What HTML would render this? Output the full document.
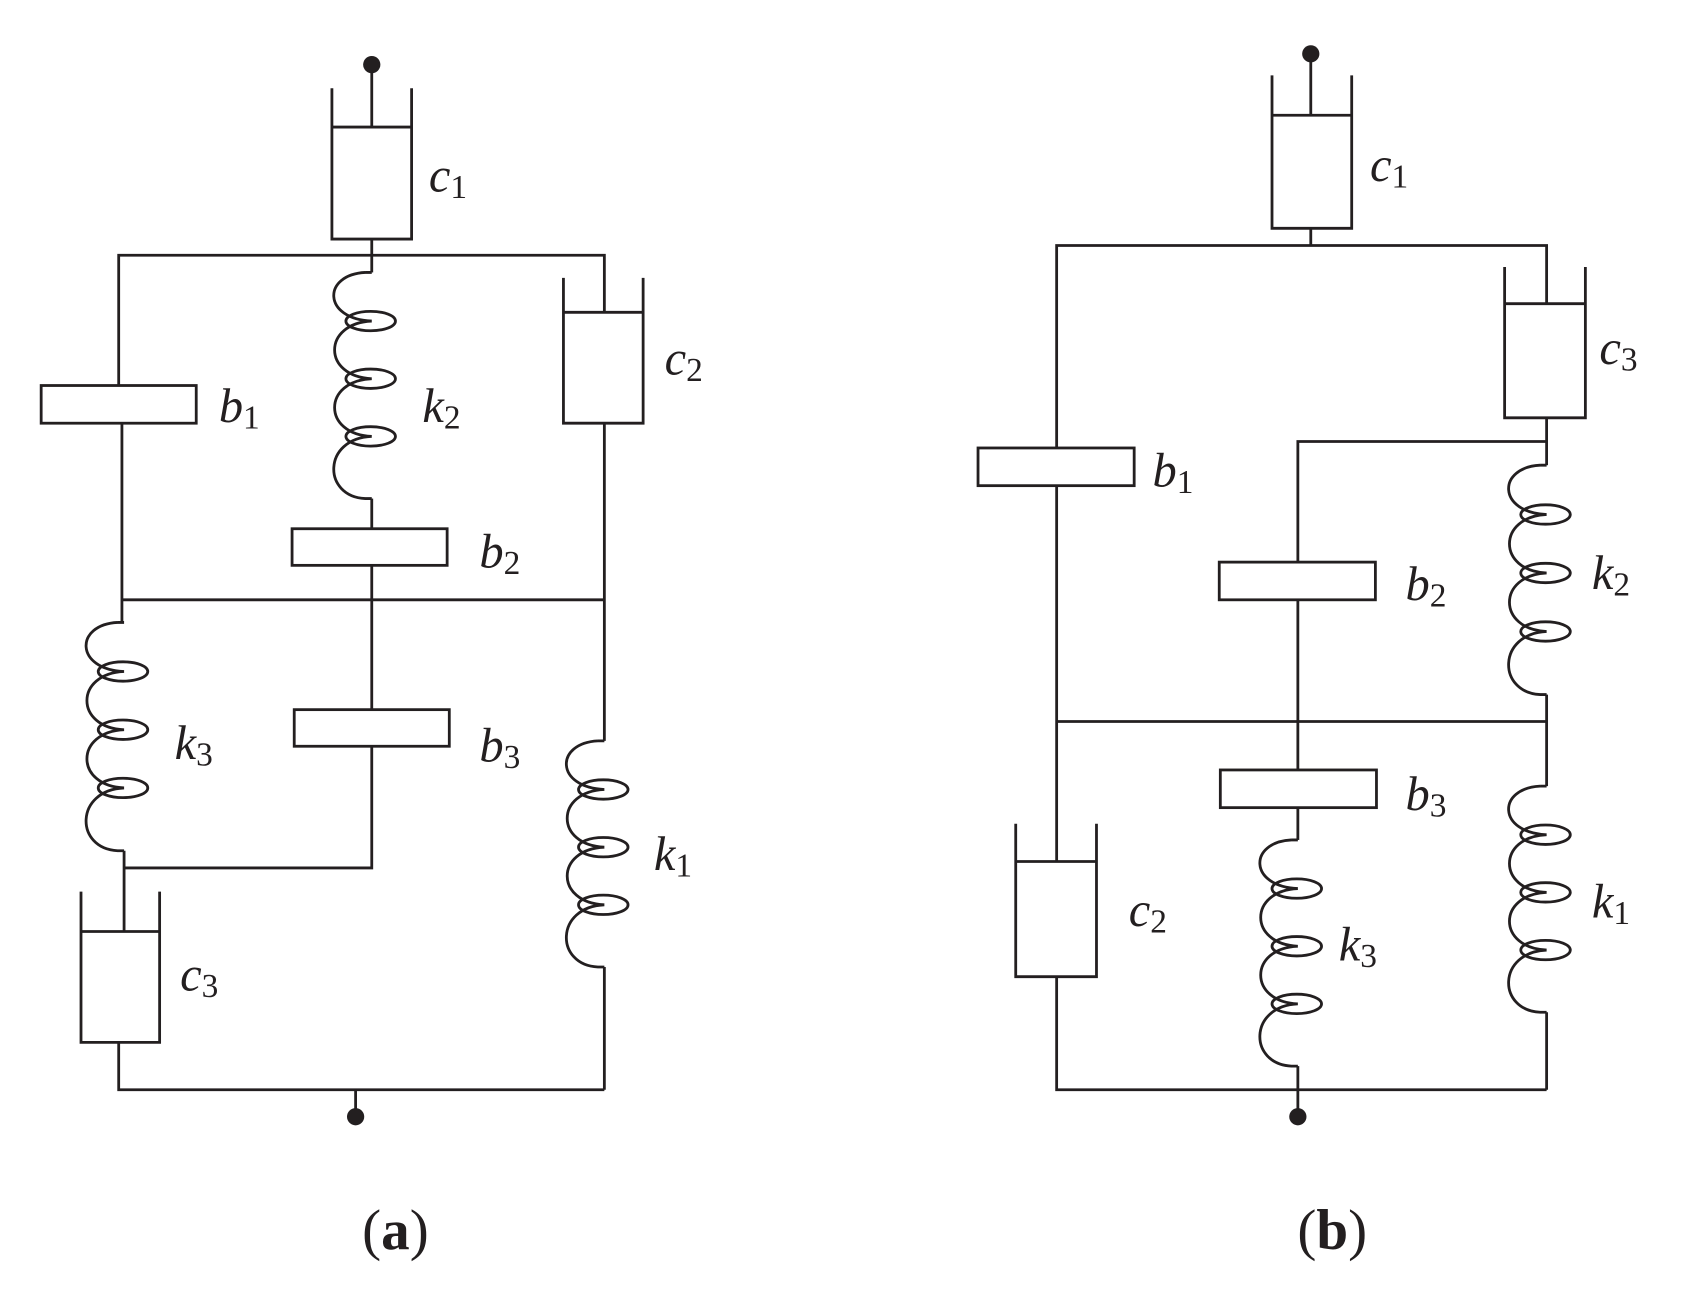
<!DOCTYPE html>
<html><head><meta charset="utf-8"><style>
html,body{margin:0;padding:0;background:#fff;}
svg{display:block;}
text{font-family:"Liberation Serif",serif;fill:#231f20;}
.l{font-style:italic;font-size:45px;}
.s{font-style:normal;font-size:31px;}
</style></head><body>
<svg id="d" width="1689" height="1289" viewBox="0 0 1568 1197" xmlns="http://www.w3.org/2000/svg">
<g id="g" fill="none" stroke="#231f20" stroke-width="2.6"></g>
<g fill="#231f20" stroke="none">
<circle cx="345" cy="60" r="8"/><circle cx="330" cy="1037" r="8"/>
<circle cx="1217" cy="50" r="8"/><circle cx="1205" cy="1037" r="8"/>
</g>
<text class="l" x="398" y="178">c<tspan class="s" dy="6">1</tspan></text>
<text class="l" x="203" y="392">b<tspan class="s" dy="6">1</tspan></text>
<text class="l" x="392" y="392">k<tspan class="s" dy="6">2</tspan></text>
<text class="l" x="617" y="348">c<tspan class="s" dy="6">2</tspan></text>
<text class="l" x="445" y="527">b<tspan class="s" dy="6">2</tspan></text>
<text class="l" x="162" y="705">k<tspan class="s" dy="6">3</tspan></text>
<text class="l" x="445" y="707">b<tspan class="s" dy="6">3</tspan></text>
<text class="l" x="607" y="808">k<tspan class="s" dy="6">1</tspan></text>
<text class="l" x="167" y="920">c<tspan class="s" dy="6">3</tspan></text>
<text x="367" y="1160" text-anchor="middle" font-size="53">(<tspan font-weight="bold">a</tspan>)</text>
<text class="l" x="1272" y="168">c<tspan class="s" dy="6">1</tspan></text>
<text class="l" x="1485" y="338">c<tspan class="s" dy="6">3</tspan></text>
<text class="l" x="1070" y="452">b<tspan class="s" dy="6">1</tspan></text>
<text class="l" x="1305" y="557">b<tspan class="s" dy="6">2</tspan></text>
<text class="l" x="1478" y="547">k<tspan class="s" dy="6">2</tspan></text>
<text class="l" x="1305" y="752">b<tspan class="s" dy="6">3</tspan></text>
<text class="l" x="1048" y="860">c<tspan class="s" dy="6">2</tspan></text>
<text class="l" x="1243" y="892">k<tspan class="s" dy="6">3</tspan></text>
<text class="l" x="1478" y="852">k<tspan class="s" dy="6">1</tspan></text>
<text x="1237" y="1160" text-anchor="middle" font-size="53">(<tspan font-weight="bold">b</tspan>)</text>
</svg>
<script>
var g=document.getElementById('g'),o='';
function L(a){o+='<polyline points="'+a.join(' ')+'"/>';}
function R(x1,y1,x2,y2){o+='<rect x="'+x1+'" y="'+y1+'" width="'+(x2-x1)+'" height="'+(y2-y1)+'"/>';}
function C(xl,xr,yt,yp,yb){L([xl,yt,xl,yb,xr,yb,xr,yt]);L([xl,yp,xr,yp]);}
function S(x,y0,y1){var h=y1-y0,ys=[y0,y0+0.215*h,y0+0.47*h,y0+0.725*h,y1];
 var d='M'+x+' '+y0+' L'+(x-6)+' '+y0;
 for(var i=0;i<4;i++){var a=ys[i],b=ys[i+1];var st=(i==0)?(x-6):x;var en=(i==3)?(x-6):x;
  d+=' M'+st+' '+a+' C'+(x-46)+' '+(a+2)+' '+(x-46)+' '+(b-2)+' '+en+' '+b;}
 d+=' L'+x+' '+y1;
 o+='<path d="'+d+'"/>';
 for(var i=1;i<4;i++){o+='<ellipse cx="'+(x-1)+'" cy="'+ys[i]+'" rx="23" ry="9"/>';}
}
/* (a) */
L([345,60,345,118]);C(308,382,82,118,222);L([345,222,345,253]);
L([110,358,110,237,561,237,561,290]);
R(38,358,182,393);L([113,393,113,578]);
S(345,253,463);L([345,463,345,491]);R(271,491,415,525);L([345,525,345,659]);
R(273,659,417,693);L([345,693,345,806,115,806]);
C(523,597,258,290,393);L([561,393,561,688]);S(561,688,898);L([561,898,561,1012]);
L([113,557,561,557]);
S(115,578,790);L([115,790,115,865]);
C(75,148,828,865,968);L([110,968,110,1012,561,1012]);L([330,1012,330,1037]);
/* (b) */
L([1217,50,1217,107]);C(1181,1255,70,107,212);L([1217,212,1217,228]);
L([981,416,981,228,1436,228,1436,282]);
R(908,416,1053,451);L([981,451,981,800]);
C(943,1018,765,800,907);L([981,907,981,1012,1436,1012]);
C(1397,1472,248,282,388);L([1436,388,1436,432]);L([1205,522,1205,410,1436,410]);
S(1436,432,645);L([1436,645,1436,730]);S(1436,730,940);L([1436,940,1436,1012]);
L([981,670,1436,670]);
R(1132,522,1277,557);L([1205,557,1205,715]);R(1133,715,1278,750);L([1205,750,1205,780]);
S(1205,780,990);L([1205,990,1205,1037]);
g.innerHTML=o;
</script>
</body></html>
